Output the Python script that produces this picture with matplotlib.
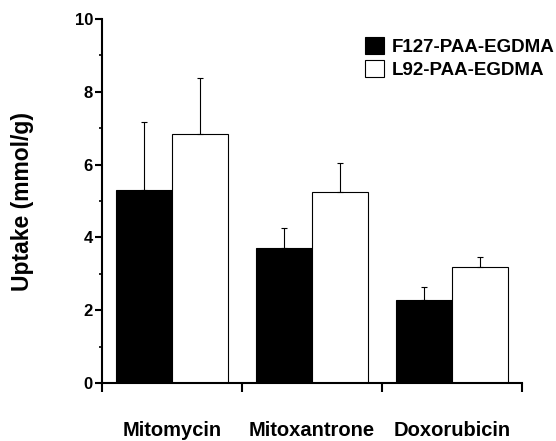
import matplotlib
matplotlib.use("Agg")
import matplotlib.pyplot as plt
import numpy as np
from matplotlib.ticker import MultipleLocator, FixedLocator

plt.rcParams['font.family'] = ['Liberation Sans', 'DejaVu Sans']
plt.rcParams['font.weight'] = 'bold'

categories = ["Mitomycin", "Mitoxantrone", "Doxorubicin"]
series_names = ["F127-PAA-EGDMA", "L92-PAA-EGDMA"]
f127_values = [5.31, 3.71, 2.27]
f127_errors = [1.85, 0.55, 0.38]
l92_values = [6.85, 5.24, 3.18]
l92_errors = [1.52, 0.81, 0.28]

fig = plt.figure(figsize=(5.56, 4.41), dpi=100)
ax = fig.add_axes([102/556, 1-383/441, (521.7-102)/556, (383-19)/441])

centers = np.arange(len(categories)) + 0.5
w = 0.4
ekw = dict(elinewidth=0.8, capsize=2.2, capthick=0.8, ecolor='black')
ax.bar(centers - w/2, f127_values, width=w, color='black', edgecolor='black', linewidth=0.8,
       label=series_names[0])
ax.errorbar(centers - w/2, f127_values, yerr=[np.zeros(3), f127_errors], fmt='none', **ekw)
ax.bar(centers + w/2, l92_values, width=w, color='white', edgecolor='black', linewidth=0.8,
       label=series_names[1])
ax.errorbar(centers + w/2, l92_values, yerr=[np.zeros(3), l92_errors], fmt='none', **ekw)

ax.set_xlim(0, 3)
ax.set_ylim(0, 10)
for s in ['top', 'right']:
    ax.spines[s].set_visible(False)
for s in ['left', 'bottom']:
    ax.spines[s].set_linewidth(1.5)

ax.yaxis.set_major_locator(MultipleLocator(2))
ax.yaxis.set_minor_locator(MultipleLocator(1))
ax.tick_params(axis='y', which='major', length=5, width=1.5, labelsize=12, pad=1.5)
ax.tick_params(axis='y', which='minor', length=2.5, width=1.2)

ax.xaxis.set_major_locator(FixedLocator([0, 1, 2, 3]))
ax.xaxis.set_minor_locator(FixedLocator(list(centers)))
ax.xaxis.set_major_formatter(plt.NullFormatter())
ax.set_xticks(centers, categories, minor=True)
ax.tick_params(axis='x', which='major', length=6.5, width=1.5)
ax.tick_params(axis='x', which='minor', length=0, labelsize=14.5, pad=27.5)
for t in ax.get_yticklabels() + ax.get_xticklabels(minor=True):
    t.set_fontweight('bold')

ax.set_ylabel("Uptake (mmol/g)", fontsize=16.5, fontweight='bold')
ax.yaxis.set_label_coords((34-102)/419.7, 0.5)

leg = ax.legend(loc='upper left', bbox_to_anchor=((365-102)/419.7, (383-37)/364),
                frameon=False, fontsize=13.5, handlelength=1.0, handleheight=1.0,
                labelspacing=0.22, handletextpad=0.42, borderpad=0, borderaxespad=0)
for t in leg.get_texts():
    t.set_fontweight('bold')

fig.savefig("out.png", dpi=100)
